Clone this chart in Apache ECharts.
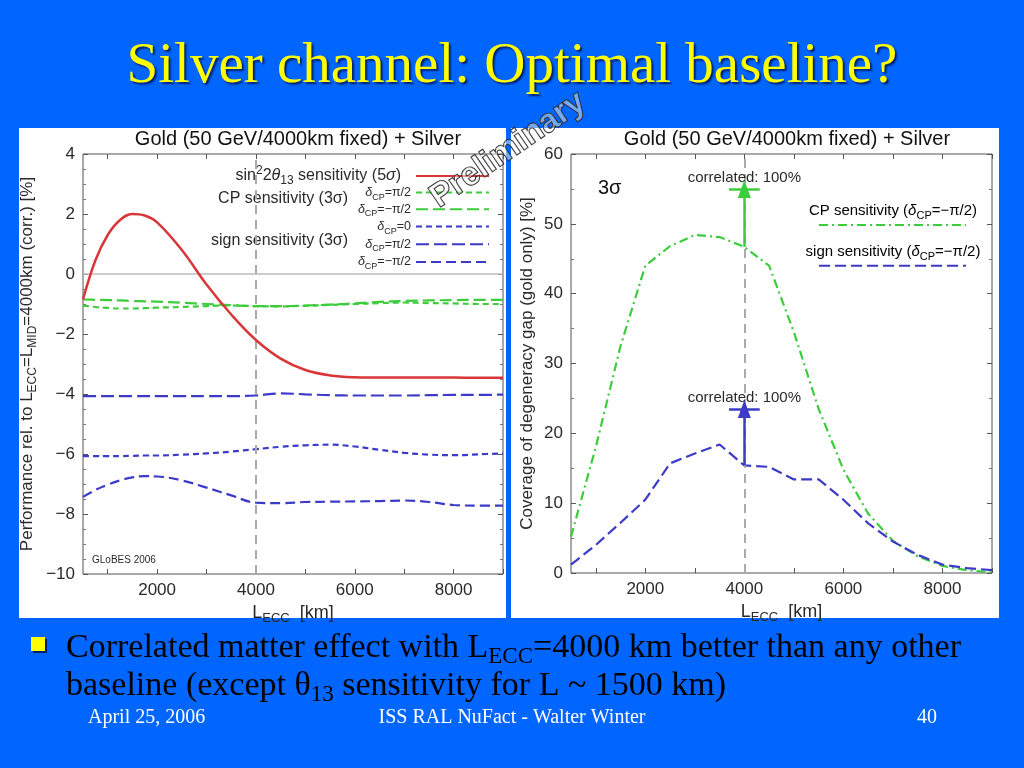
<!DOCTYPE html>
<html><head><meta charset="utf-8">
<script src="https://cdn.jsdelivr.net/npm/echarts@6/dist/echarts.min.js"></script>
<style>html,body{margin:0;padding:0;background:#0066ff}#c{width:1024px;height:768px}</style>
</head><body><div id="c"></div>
<script>
// ---------- Data ----------
const baselineKm = [500,750,1000,1250,1500,1750,2000,2500,3000,3500,4000,4500,5000,5500,6000,6500,7000,7500,8000,8500,9000];
const theta13Perf      = [-0.85,0.45,1.3,1.8,2.0,1.95,1.72,0.8,-0.35,-1.35,-2.2,-2.82,-3.2,-3.38,-3.44,-3.45,-3.45,-3.45,-3.45,-3.46,-3.46];
const cpPerfPiHalf     = [-1.05,-1.1,-1.13,-1.15,-1.15,-1.14,-1.12,-1.1,-1.07,-1.05,-1.07,-1.08,-1.06,-1.03,-1.0,-0.97,-0.95,-0.97,-0.98,-1.0,-1.0];
const cpPerfMinusPiHalf= [-0.85,-0.86,-0.87,-0.88,-0.9,-0.91,-0.92,-0.96,-1.0,-1.04,-1.07,-1.07,-1.05,-1.02,-0.98,-0.93,-0.9,-0.88,-0.87,-0.86,-0.86];
const signPerfZero     = [-6.07,-6.07,-6.07,-6.07,-6.06,-6.05,-6.05,-6.02,-5.98,-5.92,-5.84,-5.76,-5.71,-5.69,-5.75,-5.86,-5.96,-6.02,-6.04,-6.01,-5.98];
const signPerfPiHalf   = [-4.07,-4.07,-4.07,-4.07,-4.07,-4.07,-4.07,-4.07,-4.07,-4.07,-4.05,-3.98,-4.01,-4.04,-4.05,-4.05,-4.05,-4.04,-4.03,-4.03,-4.02];
const signPerfMinusPiHalf = [-7.43,-7.2,-7.02,-6.88,-6.78,-6.74,-6.75,-6.88,-7.12,-7.38,-7.62,-7.64,-7.6,-7.59,-7.58,-7.57,-7.55,-7.6,-7.7,-7.72,-7.72];

const gapKm = [500,1000,1500,2000,2500,3000,3500,4000,4500,5000,5500,6000,6500,7000,7500,8000,8500,9000];
const cpCoverage   = [5.2,18,32.5,44,46.8,48.4,48.1,46.7,44,34.5,23.5,14.8,8.5,4.6,2.4,1.0,0.4,0.1];
const signCoverage = [1.2,4.0,7.2,10.5,15.7,17.1,18.4,15.4,15.2,13.4,13.4,10.5,7.1,4.5,2.6,1.2,0.7,0.4];

const fixedKm = 4000;
const cpCorrelated = 55;
const signCorrelated = 23.5;
const barHalfKm = 310;

const xTickLabels = [2000,4000,6000,8000];
const xTicks = [1000,2000,3000,4000,5000,6000,7000,8000,9000];

// ---------- Styles ----------
const RED = '#d9363a', GREEN = '#3ccc3c', BLUE = '#3b3bc8';
const SANS = '"Liberation Sans", Arial, sans-serif';
const SERIF = '"Liberation Serif", "Times New Roman", serif';
const TXT = '#2a2a2a';

const pairs = (xs, ys) => xs.map((x, i) => [x, ys[i]]);
const at = (xs, ys, x) => ys[xs.indexOf(x)];

const subRich = (fs) => ({
  n: {fontSize: fs, lineHeight: fs + 6, color: TXT, fontFamily: SANS},
  sub: {fontSize: Math.round(fs * 0.72), lineHeight: Math.round(fs * 0.72), verticalAlign: 'bottom', color: TXT, fontFamily: SANS},
  sup: {fontSize: Math.round(fs * 0.72), lineHeight: Math.round(fs * 0.72), verticalAlign: 'top', color: TXT, fontFamily: SANS},
  i: {fontSize: fs, lineHeight: fs + 6, color: TXT, fontFamily: SANS, fontStyle: 'italic'}
});

const legendLabels = {
  'θ13': '{n|sin}{sup|2}{n|2}{i|θ}{sub|13}{n| sensitivity (5}{i|σ}{n|)}',
  'CP π/2': '{i|δ}{sub|CP}{n|=π/2}',
  'CP −π/2': '{i|δ}{sub|CP}{n|=−π/2}',
  'sign 0': '{i|δ}{sub|CP}{n|=0}',
  'sign π/2': '{i|δ}{sub|CP}{n|=π/2}',
  'sign −π/2': '{i|δ}{sub|CP}{n|=−π/2}'
};

const noSymbol = {color: 'transparent', borderColor: 'transparent', borderWidth: 0, opacity: 0};

function xAxisPair(gi) {
  return [
    {gridIndex: gi, type: 'value', min: 500, max: 9000, position: 'bottom',
     axisLine: {show: false, onZero: false},
     axisTick: {inside: true, length: 5, customValues: xTicks, lineStyle: {color: '#555'}},
     axisLabel: {customValues: xTickLabels, fontSize: 17, color: TXT, fontFamily: SANS, margin: 8, formatter: v => String(v)},
     splitLine: {show: false},
     name: '{n|L}{sub|ECC}{n|  [km]}', nameLocation: 'middle', nameGap: 22,
     nameTextStyle: {rich: subRich(18)}},
    {gridIndex: gi, type: 'value', min: 500, max: 9000, position: 'top',
     axisLine: {show: false, onZero: false}, axisLabel: {show: false}, splitLine: {show: false},
     axisTick: {inside: true, length: 5, customValues: xTicks, lineStyle: {color: '#555'}}}
  ];
}

const vline = {silent: true, symbol: 'none', label: {show: false},
  lineStyle: {color: '#aaaaaa', type: [9, 6], width: 2},
  data: [{xAxis: fixedKm}]};

const option = {
  backgroundColor: '#0066ff',
  animation: false,
  title: [
    {text: 'Silver channel: Optimal baseline?', left: 'center', top: 34,
     textStyle: {fontFamily: SERIF, fontSize: 57, fontWeight: 'normal', color: '#ffff00',
       textShadowColor: 'rgba(0,0,40,0.7)', textShadowOffsetX: 2, textShadowOffsetY: 2, textShadowBlur: 2}},
    {text: 'Gold (50 GeV/4000km fixed) + Silver', left: 293, textAlign: 'center', top: 124,
     textStyle: {fontFamily: SANS, fontSize: 20, fontWeight: 'normal', color: '#111'}},
    {text: 'Gold (50 GeV/4000km fixed) + Silver', left: 782, textAlign: 'center', top: 124,
     textStyle: {fontFamily: SANS, fontSize: 20, fontWeight: 'normal', color: '#111'}}
  ],
  grid: [
    {left: 83, top: 154, width: 420, height: 420, show: true, borderColor: '#555', borderWidth: 1, backgroundColor: 'transparent'},
    {left: 571, top: 154, width: 421, height: 419, show: true, borderColor: '#555', borderWidth: 1, backgroundColor: 'transparent'}
  ],
  xAxis: [...xAxisPair(0), ...xAxisPair(1)],
  yAxis: [
    {gridIndex: 0, type: 'value', min: -10, max: 4, interval: 2, axisLine: {show: false},
     axisTick: {inside: true, length: 5, lineStyle: {color: '#555'}},
     minorTick: {show: true, splitNumber: 4, length: 3, lineStyle: {color: '#777'}},
     axisLabel: {fontSize: 17, color: TXT, fontFamily: SANS, margin: 8, formatter: v => String(v).replace('-', '−')},
     splitLine: {show: false},
     name: '{n|Performance rel. to L}{sub|ECC}{n|=L}{sub|MID}{n|=4000km (corr.) [%]}',
     nameLocation: 'middle', nameGap: 44, nameRotate: 90, nameTextStyle: {rich: subRich(17)}},
    {gridIndex: 0, type: 'value', min: -10, max: 4, interval: 2, position: 'right', axisLine: {show: false},
     axisTick: {inside: true, length: 5, lineStyle: {color: '#555'}},
     minorTick: {show: true, splitNumber: 4, length: 3, lineStyle: {color: '#777'}},
     axisLabel: {show: false}, splitLine: {show: false}},
    {gridIndex: 1, type: 'value', min: 0, max: 60, interval: 10, axisLine: {show: false},
     axisTick: {inside: true, length: 5, lineStyle: {color: '#555'}},
     minorTick: {show: true, splitNumber: 2, length: 3, lineStyle: {color: '#777'}},
     axisLabel: {fontSize: 17, color: TXT, fontFamily: SANS, margin: 8},
     splitLine: {show: false},
     name: 'Coverage of degeneracy gap (gold only) [%]',
     nameLocation: 'middle', nameGap: 35, nameRotate: 90,
     nameTextStyle: {fontSize: 17, color: TXT, fontFamily: SANS}},
    {gridIndex: 1, type: 'value', min: 0, max: 60, interval: 10, position: 'right', axisLine: {show: false},
     axisTick: {inside: true, length: 5, lineStyle: {color: '#555'}},
     minorTick: {show: true, splitNumber: 2, length: 3, lineStyle: {color: '#777'}},
     axisLabel: {show: false}, splitLine: {show: false}}
  ],
  legend: [
    {data: ['θ13'], right: 534, top: 165, padding: 0, align: 'right', itemWidth: 73, itemHeight: 14, itemStyle: noSymbol,
     formatter: n => legendLabels[n], textStyle: {padding: [0, 10, 0, 0], rich: subRich(16)}, selectedMode: false},
    {data: ['CP π/2', 'CP −π/2'], orient: 'vertical', right: 534, top: 186, padding: 0, align: 'right', itemStyle: noSymbol,
     itemWidth: 73, itemHeight: 13, itemGap: 1, selectedMode: false,
     formatter: n => legendLabels[n], textStyle: {rich: subRich(12.5)}},
    {data: ['sign 0', 'sign π/2', 'sign −π/2'], orient: 'vertical', right: 534, top: 220, padding: 0, align: 'right', itemStyle: noSymbol,
     itemWidth: 73, itemHeight: 13, itemGap: 2, selectedMode: false,
     formatter: n => legendLabels[n], textStyle: {rich: subRich(12.5)}},
    {data: ['CP coverage', 'sign coverage'], orient: 'vertical', left: 818, top: 219, padding: 0, itemStyle: noSymbol,
     itemWidth: 147, itemHeight: 12, itemGap: 30, selectedMode: false, formatter: () => ''}
  ],
  series: [
    {name: 'θ13', type: 'line', xAxisIndex: 0, yAxisIndex: 0, smooth: 0.4, symbol: 'none', showSymbol: false,
     data: pairs(baselineKm, theta13Perf), lineStyle: {color: RED, width: 2.5}, itemStyle: {color: RED}, z: 5,
     markLine: vline},
    {name: 'CP π/2', type: 'line', xAxisIndex: 0, yAxisIndex: 0, smooth: 0.4, symbol: 'none', showSymbol: false,
     data: pairs(baselineKm, cpPerfPiHalf), lineStyle: {color: GREEN, width: 2.2, type: [6, 4]}, itemStyle: {color: GREEN},
     markLine: {silent: true, symbol: 'none', label: {show: false}, lineStyle: {color: '#bbbbbb', type: 'solid', width: 1.5}, data: [{yAxis: 0}]}},
    {name: 'CP −π/2', type: 'line', xAxisIndex: 0, yAxisIndex: 0, smooth: 0.4, symbol: 'none', showSymbol: false,
     data: pairs(baselineKm, cpPerfMinusPiHalf), lineStyle: {color: GREEN, width: 2.2, type: [12, 5]}, itemStyle: {color: GREEN}},
    {name: 'sign 0', type: 'line', xAxisIndex: 0, yAxisIndex: 0, smooth: 0.4, symbol: 'none', showSymbol: false,
     data: pairs(baselineKm, signPerfZero), lineStyle: {color: BLUE, width: 2.2, type: [6, 4]}, itemStyle: {color: BLUE}},
    {name: 'sign π/2', type: 'line', xAxisIndex: 0, yAxisIndex: 0, smooth: 0.4, symbol: 'none', showSymbol: false,
     data: pairs(baselineKm, signPerfPiHalf), lineStyle: {color: BLUE, width: 2.2, type: [13, 5]}, itemStyle: {color: BLUE}},
    {name: 'sign −π/2', type: 'line', xAxisIndex: 0, yAxisIndex: 0, smooth: 0.4, symbol: 'none', showSymbol: false,
     data: pairs(baselineKm, signPerfMinusPiHalf), lineStyle: {color: BLUE, width: 2.2, type: [10, 5]}, itemStyle: {color: BLUE}},

    {name: 'CP coverage', type: 'line', xAxisIndex: 2, yAxisIndex: 2, symbol: 'none', showSymbol: false,
     data: pairs(gapKm, cpCoverage), lineStyle: {color: GREEN, width: 2.2, type: [9, 4, 2, 4]}, itemStyle: {color: GREEN},
     markLine: {silent: true, symbol: 'none', animation: false,
       data: [
         [{xAxis: fixedKm, yAxis: 0, symbol: 'none', lineStyle: {color: '#aaaaaa', type: [9, 6], width: 2}, label: {show: false}},
          {xAxis: fixedKm, yAxis: 60, symbol: 'none'}],
         [{coord: [fixedKm, at(gapKm, cpCoverage, fixedKm)], symbol: 'none', lineStyle: {color: GREEN, width: 2.5, type: 'solid'}, label: {show: false}},
          {coord: [fixedKm, cpCorrelated], symbol: 'triangle', symbolSize: [13, 18]}],
         [{coord: [fixedKm - barHalfKm, cpCorrelated], symbol: 'none', lineStyle: {color: GREEN, width: 2.5, type: 'solid'},
           label: {show: true, position: 'insideMiddleTop', distance: 4, formatter: 'correlated: 100%', fontSize: 15, color: TXT, fontFamily: SANS}},
          {coord: [fixedKm + barHalfKm, cpCorrelated], symbol: 'none'}]
       ]}},
    {name: 'sign coverage', type: 'line', xAxisIndex: 2, yAxisIndex: 2, symbol: 'none', showSymbol: false,
     data: pairs(gapKm, signCoverage), lineStyle: {color: BLUE, width: 2.2, type: [11, 5]}, itemStyle: {color: BLUE},
     markLine: {silent: true, symbol: 'none', animation: false,
       data: [
         [{coord: [fixedKm, at(gapKm, signCoverage, fixedKm)], symbol: 'none', lineStyle: {color: BLUE, width: 2.5, type: 'solid'}, label: {show: false}},
          {coord: [fixedKm, signCorrelated], symbol: 'triangle', symbolSize: [13, 18]}],
         [{coord: [fixedKm - barHalfKm, signCorrelated], symbol: 'none', lineStyle: {color: BLUE, width: 2.5, type: 'solid'},
           label: {show: true, position: 'insideMiddleTop', distance: 4, formatter: 'correlated: 100%', fontSize: 15, color: TXT, fontFamily: SANS}},
          {coord: [fixedKm + barHalfKm, signCorrelated], symbol: 'none'}]
       ]}}
  ],
  graphic: [
    {type: 'rect', z: -10, silent: true, shape: {x: 19, y: 128, width: 487, height: 490}, style: {fill: '#ffffff'}},
    {type: 'rect', z: -10, silent: true, shape: {x: 511, y: 128, width: 488, height: 490}, style: {fill: '#ffffff'}},
    {type: 'text', x: 348, y: 199, silent: true, style: {text: 'CP sensitivity (3σ)', font: '16px ' + SANS, fill: TXT, align: 'right', verticalAlign: 'middle'}},
    {type: 'text', x: 348, y: 241, silent: true, style: {text: 'sign sensitivity (3σ)', font: '16px ' + SANS, fill: TXT, align: 'right', verticalAlign: 'middle'}},
    {type: 'text', x: 92, y: 560, silent: true, style: {text: 'GLoBES 2006', font: '10px ' + SANS, fill: TXT, verticalAlign: 'middle'}},
    {type: 'text', x: 598, y: 188, silent: true, style: {text: '3σ', font: '20px ' + SANS, fill: '#111', verticalAlign: 'middle'}},
    {type: 'text', x: 893, y: 211, silent: true, style: {text: '{n|CP sensitivity (}{i|δ}{sub|CP}{n|=−π/2)}', rich: subRich(15), align: 'center', verticalAlign: 'middle'}},
    {type: 'text', x: 893, y: 252, silent: true, style: {text: '{n|sign sensitivity (}{i|δ}{sub|CP}{n|=−π/2)}', rich: subRich(15), align: 'center', verticalAlign: 'middle'}},
    {type: 'text', x: 508, y: 150, rotation: 0.6, z: 100, silent: true,
     style: {text: 'Preliminary', font: 'bold 33px ' + SANS, fill: 'rgba(255,255,255,0.45)', stroke: '#111', lineWidth: 1.2, align: 'center', verticalAlign: 'middle'}},
    {type: 'rect', silent: true, shape: {x: 31, y: 637, width: 14, height: 14}, style: {fill: '#ffff00', shadowColor: 'rgba(0,0,40,0.7)', shadowOffsetX: 2, shadowOffsetY: 2}},
    {type: 'text', x: 66, y: 648, silent: true,
     style: {text: '{m|Correlated matter effect with L}{s|ECC}{m|=4000 km better than any other}',
       rich: {m: {fontFamily: SERIF, fontSize: 34, lineHeight: 40, color: '#fff'},
              s: {fontFamily: SERIF, fontSize: 23, lineHeight: 23, verticalAlign: 'bottom', color: '#fff'}},
       verticalAlign: 'middle', textShadowColor: 'rgba(0,0,40,0.7)', textShadowOffsetX: 2, textShadowOffsetY: 2}},
    {type: 'text', x: 66, y: 686, silent: true,
     style: {text: '{m|baseline (except θ}{s|13}{m| sensitivity for L ~ 1500 km)}',
       rich: {m: {fontFamily: SERIF, fontSize: 34, lineHeight: 40, color: '#fff'},
              s: {fontFamily: SERIF, fontSize: 23, lineHeight: 23, verticalAlign: 'bottom', color: '#fff'}},
       verticalAlign: 'middle', textShadowColor: 'rgba(0,0,40,0.7)', textShadowOffsetX: 2, textShadowOffsetY: 2}},
    {type: 'text', x: 88, y: 718, silent: true, style: {text: 'April 25, 2006', font: '20px ' + SERIF, fill: '#fff', verticalAlign: 'middle'}},
    {type: 'text', x: 512, y: 718, silent: true, style: {text: 'ISS RAL NuFact - Walter Winter', font: '20px ' + SERIF, fill: '#fff', align: 'center', verticalAlign: 'middle'}},
    {type: 'text', x: 927, y: 718, silent: true, style: {text: '40', font: '20px ' + SERIF, fill: '#fff', align: 'center', verticalAlign: 'middle'}}
  ]
};

const chart = echarts.init(document.getElementById('c'), null, {renderer: 'canvas'});
chart.setOption(option);
</script>
</body></html>
